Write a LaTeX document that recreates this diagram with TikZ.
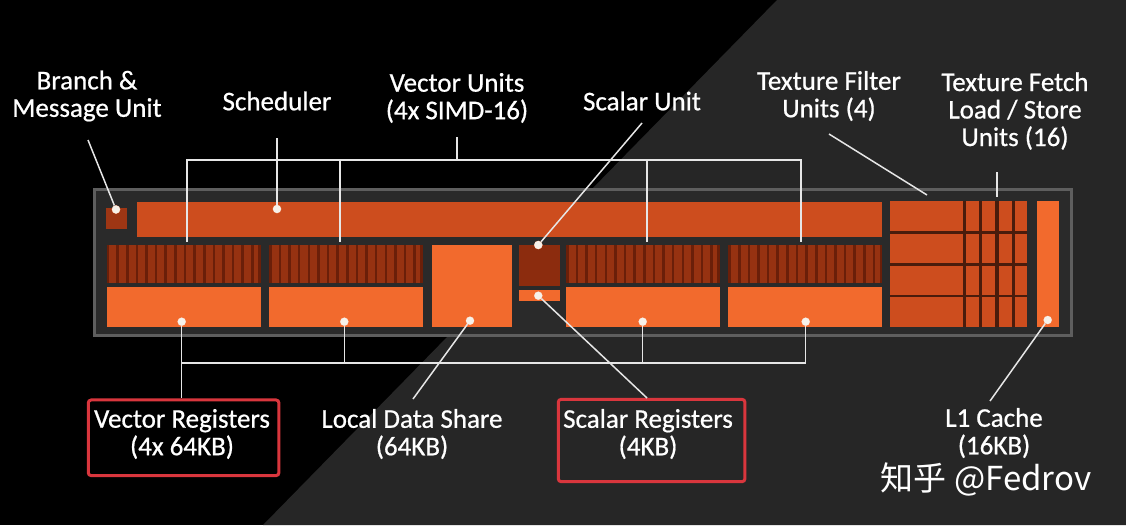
\documentclass[tikz,border=0pt]{standalone}
\usepackage{fontspec}
\setmainfont{Carlito}
\newfontfamily\lblfont{Carlito}[FakeBold=0.7]
\newfontfamily\cjkfont{Noto Sans CJK SC}
\definecolor{bggray}{HTML}{262626}
\definecolor{panelfill}{HTML}{2A2A2A}
\definecolor{panelborder}{HTML}{5E5E5E}
\definecolor{brightor}{HTML}{F26A2D}
\definecolor{midor}{HTML}{CD4D1E}
\definecolor{darkor}{HTML}{9E3614}
\definecolor{scalarc}{HTML}{8C2C0E}
\definecolor{stripelight}{HTML}{963211}
\definecolor{stripedark}{HTML}{6A1F09}
\definecolor{gridline}{HTML}{4A1C0C}
\definecolor{redbox}{HTML}{D9363D}
\definecolor{linec}{HTML}{E6E6E6}
\definecolor{dotc}{HTML}{F6F1EA}
\tikzset{
  lbl/.style={text=white, align=center, font=\lblfont\fontsize{27}{27.5}\selectfont, inner sep=0pt},
  conn/.style={draw=linec, line width=1.5pt},
  dot/.style={circle, fill=dotc, draw=brightor!60!white, line width=0.6pt, inner sep=0pt, minimum size=8pt},
  rbox/.style={draw=redbox, line width=3pt, rounded corners=3pt, inner sep=0pt},
}
\begin{document}
\begin{tikzpicture}[x=1pt,y=-1pt]
% background
\fill[black] (0,0) rectangle (1126,525);
\fill[bggray] (777,0) -- (1126,0) -- (1126,525) -- (263,525) -- cycle;
\useasboundingbox (0,0) rectangle (1126,525);
% panel
\draw[panelborder, line width=3pt, fill=panelfill] (94,189) rectangle (1071,335);
% branch unit and scheduler
\fill[darkor] (106,208) rectangle (127,229);
\fill[midor] (137,202) rectangle (882,237);
% vector units (striped) and vector registers
\foreach \bx in {106.7,269,566,728.3} {
  \fill[stripelight] (\bx,245) rectangle ++(154,38);
  \foreach \i in {0,...,15} {
    \fill[stripedark] (\bx+\i*9.625,245) rectangle ++(2.6,38);
  }
  \fill[stripedark] (\bx+151.4,245) rectangle ++(2.6,38);
  \fill[brightor] (\bx,286.7) rectangle ++(154,40);
}
% local data share
\fill[brightor] (431.7,245) rectangle (511.7,326.7);
% scalar unit and scalar registers
\fill[scalarc] (519.3,245) rectangle (560,286);
\fill[brightor] (519.3,290) rectangle (560,300.7);
% texture units
\fill[gridline] (890,200.7) rectangle (1027.3,326.7);
\foreach \ya/\yb in {200.7/230.7, 233.5/263, 266/294.5, 297.3/326.7} {
  \fill[midor] (890,\ya) rectangle (963,\yb);
  \foreach \xa/\xb in {966/979, 982/995.3, 999/1012, 1015.3/1027.3} {
    \fill[midor] (\xa,\ya) rectangle (\xb,\yb);
  }
}
% L1 cache
\fill[brightor] (1037.3,200.7) rectangle (1059.3,326.7);

% labels
\node[lbl] (lBr) at (87,96) {Branch \&\\Message Unit};
\node[lbl] (lSch) at (277,101) {Scheduler};
\node[lbl] (lVU) at (457,98) {Vector Units\\(4x SIMD-16)};
\node[lbl] (lSU) at (642,101) {Scalar Unit};
\node[lbl] (lTF) at (829,96) {Texture Filter\\Units (4)};
\node[lbl] (lTL) at (1015,111) {Texture Fetch\\Load / Store\\Units (16)};
\node[lbl] (lVR) at (182,434) {Vector Registers\\(4x 64KB)};
\node[lbl] (lLDS) at (412,434) {Local Data Share\\(64KB)};
\node[lbl] (lSR) at (648,434) {Scalar Registers\\(4KB)};
\node[lbl] (lL1) at (994,433) {L1 Cache\\(16KB)};
\node[text=white, inner sep=0pt, font=\fontsize{33}{33}\selectfont\cjkfont] (wm) at (986,479) {知乎 @Fedrov};

% red boxes
\node[rbox, minimum width=190.7pt, minimum height=75.7pt] (rbVR) at (183.6,437.8) {};
\node[rbox, minimum width=186.7pt, minimum height=82.4pt] (rbSR) at (651.6,440.5) {};

% dots
\node[dot] (dBr) at (116,209.5) {};
\node[dot] (dSch) at (277,209) {};
\node[dot] (dSU) at (538.3,245) {};
\node[dot] (dSR) at (538.3,295.7) {};
\node[dot] (dV1) at (181.7,321.7) {};
\node[dot] (dV2) at (344.3,321.7) {};
\node[dot] (dV3) at (642.7,321.7) {};
\node[dot] (dV4) at (805.7,321.7) {};
\node[dot] (dLDS) at (470,320.7) {};
\node[dot] (dL1) at (1047.7,320) {};

% connector end points
\coordinate (cBr) at (88,140);
\coordinate (cSch) at (277,138);
\coordinate (cVU) at (457,137);
\coordinate (jVU) at (457,160);
\coordinate (b1) at (187,242);
\coordinate (b2) at (340,242);
\coordinate (b3) at (647,242);
\coordinate (b4) at (801,242);
\coordinate (cSU) at (642,123);
\coordinate (cTFa) at (829,134);
\coordinate (cTFb) at (927,195);
\coordinate (cTLa) at (997,172);
\coordinate (cTLb) at (997,197);
\coordinate (jB) at (181.7,363);
\coordinate (cLDS) at (413,399);
\coordinate (cSR) at (647,398);
\coordinate (cL1) at (990,401);

% connectors (top)
\draw[conn] (cBr) -- (dBr);
\draw[conn] (cSch) -- (dSch);
\draw[conn] (cVU) -- (jVU);
\draw[conn] (b1) -- (b1 |- jVU) -- (b4 |- jVU) -- (b4);
\draw[conn] (b2) -- (b2 |- jVU);
\draw[conn] (b3) -- (b3 |- jVU);
\draw[conn] (cSU) -- (dSU);
\draw[conn] (cTFa) -- (cTFb);
\draw[conn] (cTLa) -- (cTLb);
% connectors (bottom)
\draw[conn] (dV1) -- (rbVR.north -| dV1);
\draw[conn] (jB) -- (dV4 |- jB) -- (dV4);
\draw[conn] (dV2) -- (dV2 |- jB);
\draw[conn] (dV3) -- (dV3 |- jB);
\draw[conn] (dLDS) -- (cLDS);
\draw[conn] (dSR) -- (cSR);
\draw[conn] (dL1) -- (cL1);
% redraw dots on top
\foreach \d in {dBr,dSch,dSU,dSR,dV1,dV2,dV3,dV4,dLDS,dL1} {
  \fill[dotc] (\d) circle (4pt);
}
\end{tikzpicture}
\end{document}
